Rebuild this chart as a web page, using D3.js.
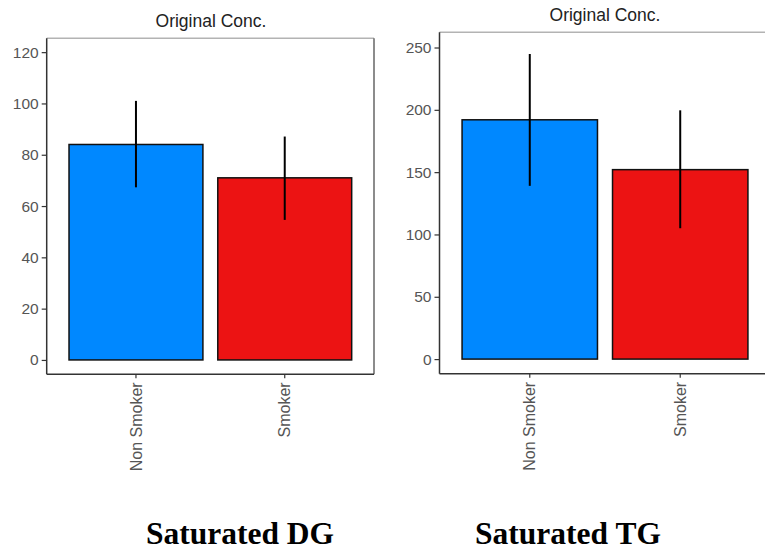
<!DOCTYPE html>
<html>
<head>
<meta charset="utf-8">
<script src="https://cdn.jsdelivr.net/npm/d3@7"></script>
<style>
  html, body { margin: 0; padding: 0; background: #fff; }
  svg { display: block; }
</style>
</head>
<body>
<svg id="chart" width="765" height="553"></svg>
<script>
// Groups on the x axis
const categories = ["Non Smoker", "Smoker"];
const barColors = ["#0088FF", "#EC1313"];

// Saturated DG: mean and error-bar bounds
const dgMean = [84, 71];
const dgLow = [67.3, 54.6];
const dgHigh = [101, 87.1];
const dgTicks = [0, 20, 40, 60, 80, 100, 120];

// Saturated TG: mean and error-bar bounds
const tgMean = [192, 152];
const tgLow = [139, 105];
const tgHigh = [244.8, 199.6];
const tgTicks = [0, 50, 100, 150, 200, 250];

const svg = d3.select("#chart");

function panel(cfg) {
  const g = svg.append("g");
  const x = d3.scaleBand()
    .domain(categories)
    .range([cfg.left, cfg.right])
    .paddingInner(0.1)
    .paddingOuter(0.15);
  const y = d3.scaleLinear()
    .domain(cfg.yDomain)
    .range([cfg.bottom, cfg.top]);

  const rows = categories.map((c, i) => ({
    cat: c, mean: cfg.mean[i], lo: cfg.low[i], hi: cfg.high[i], color: barColors[i]
  }));

  // panel border (top / right)
  g.append("line")
    .attr("x1", cfg.left).attr("x2", cfg.right)
    .attr("y1", cfg.top).attr("y2", cfg.top)
    .attr("stroke", "#b3b3b3").attr("stroke-width", 1.5);
  g.append("line")
    .attr("x1", cfg.right).attr("x2", cfg.right)
    .attr("y1", cfg.top).attr("y2", cfg.bottom)
    .attr("stroke", "#666").attr("stroke-width", 1.5);

  // bars
  g.selectAll("rect.bar").data(rows).enter().append("rect")
    .attr("class", "bar")
    .attr("x", d => x(d.cat))
    .attr("width", x.bandwidth())
    .attr("y", d => y(d.mean))
    .attr("height", d => y(0) - y(d.mean))
    .attr("fill", d => d.color)
    .attr("stroke", "#111")
    .attr("stroke-width", 1.5);

  // error bars
  g.selectAll("line.err").data(rows).enter().append("line")
    .attr("class", "err")
    .attr("x1", d => x(d.cat) + x.bandwidth() / 2)
    .attr("x2", d => x(d.cat) + x.bandwidth() / 2)
    .attr("y1", d => y(d.lo))
    .attr("y2", d => y(d.hi))
    .attr("stroke", "#000")
    .attr("stroke-width", 2);

  // y axis
  const ya = g.append("g")
    .attr("transform", `translate(${cfg.left},0)`)
    .call(d3.axisLeft(y).tickValues(cfg.ticks).tickSize(5).tickPadding(3).tickSizeOuter(0));
  ya.select(".domain").attr("stroke", "#333").attr("stroke-width", 1.5)
    .attr("d", `M0,${cfg.top}V${cfg.bottom}`);
  ya.selectAll(".tick line").attr("stroke", "#333").attr("stroke-width", 1.2);
  ya.selectAll(".tick text")
    .attr("fill", "#555")
    .style("font-family", "'Liberation Sans', Arial, sans-serif")
    .style("font-size", "15.5px");

  // x axis
  const xa = g.append("g")
    .attr("transform", `translate(0,${cfg.bottom})`)
    .call(d3.axisBottom(x).tickSize(4).tickSizeOuter(0));
  xa.select(".domain").attr("stroke", "#333").attr("stroke-width", 1.5)
    .attr("d", `M${cfg.left},0H${cfg.right}`);
  xa.selectAll(".tick line").attr("stroke", "#333").attr("stroke-width", 1.2);
  xa.selectAll(".tick text")
    .attr("fill", "#555")
    .attr("transform", "rotate(-90)")
    .attr("text-anchor", "end")
    .attr("x", -8)
    .attr("y", 0)
    .attr("dy", "0.35em")
    .style("font-family", "'Liberation Sans', Arial, sans-serif")
    .style("font-size", "16px");

  // panel title
  g.append("text")
    .attr("x", cfg.titleX).attr("y", cfg.titleY)
    .attr("text-anchor", "middle")
    .attr("fill", "#222")
    .style("font-family", "'Liberation Sans', Arial, sans-serif")
    .style("font-size", "17.5px")
    .text("Original Conc.");

  // caption under the panel
  svg.append("text")
    .attr("x", cfg.capX).attr("y", 544)
    .attr("text-anchor", "middle")
    .attr("fill", "#000")
    .style("font-family", "'Liberation Serif', 'Times New Roman', serif")
    .style("font-weight", "bold")
    .style("font-size", "31.5px")
    .text(cfg.caption);
}

panel({
  left: 46.7, right: 374, top: 38.3, bottom: 374.3,
  yDomain: [-5.6, 125.4],
  mean: dgMean, low: dgLow, high: dgHigh, ticks: dgTicks,
  titleX: 211, titleY: 26.5,
  capX: 240, caption: "Saturated DG"
});

panel({
  left: 439.5, right: 770.5, top: 32.3, bottom: 373.8,
  yDomain: [-11.8, 262.2],
  mean: tgMean, low: tgLow, high: tgHigh, ticks: tgTicks,
  titleX: 605, titleY: 20.5,
  capX: 568, caption: "Saturated TG"
});
</script>
</body>
</html>
